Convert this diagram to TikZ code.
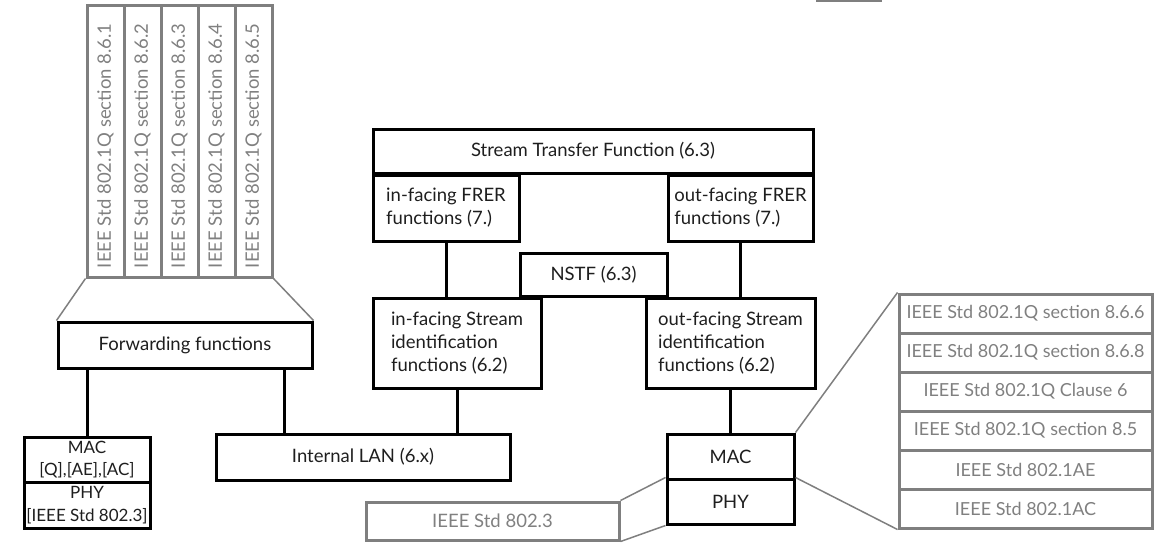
\documentclass[tikz,border=0pt]{standalone}
\usepackage{fontspec}
\setmainfont{Lato}
\definecolor{ink}{HTML}{1E1E1E}
\definecolor{gline}{HTML}{7F7F7F}
\definecolor{gtext}{HTML}{808080}
\begin{document}
\begin{tikzpicture}[x=1pt,y=-1pt,
  box/.style={draw=black,line width=3pt,inner sep=0pt,text=ink,font=\fontsize{18.5}{23}\selectfont},
  gbox/.style={draw=gline,line width=3pt,inner sep=0pt,text=gtext,font=\fontsize{18.5}{23}\selectfont},
  col/.style={gbox,minimum width=37pt,minimum height=272pt},
  rg/.style={gbox,minimum width=253pt,minimum height=39pt,font=\fontsize{18}{23}\selectfont},
  small/.style={font=\fontsize{17}{22.5}\selectfont},
  link/.style={line width=3pt,draw=black},
  glink/.style={line width=1.5pt,draw=gline}]
\useasboundingbox (0,0) rectangle (1166,542);
% vertical grey columns
\node[col] (c1) at (105.5,141) {\rotatebox{90}{\makebox[254pt][l]{IEEE Std 802.1Q section 8.6.1}}};
\node[col] (c2) at (142.5,141) {\rotatebox{90}{\makebox[254pt][l]{IEEE Std 802.1Q section 8.6.2}}};
\node[col] (c3) at (179.5,141) {\rotatebox{90}{\makebox[254pt][l]{IEEE Std 802.1Q section 8.6.3}}};
\node[col] (c4) at (216.5,141) {\rotatebox{90}{\makebox[254pt][l]{IEEE Std 802.1Q section 8.6.4}}};
\node[col] (c5) at (253.5,141) {\rotatebox{90}{\makebox[254pt][l]{IEEE Std 802.1Q section 8.6.5}}};
% left side
\node[box,minimum width=254pt,minimum height=46pt] (fw) at (185,345) {Forwarding functions};
\node[box,small,minimum width=126pt,minimum height=45pt,align=center] (lmac) at (87,459.5) {MAC\\{[Q],[AE],[AC]}};
\node[box,small,minimum width=126pt,minimum height=46pt,align=center] (lphy) at (87,505) {PHY\\{[IEEE Std 802.3]}};
\node[box,minimum width=294pt,minimum height=46pt] (lan) at (363,457) {Internal LAN (6.x)};
% centre
\node[box,minimum width=440pt,minimum height=44pt] (stf) at (593,151) {Stream Transfer Function (6.3)};
\node[box,minimum width=146pt,minimum height=66pt,align=left] (infrer) at (446,208) {in-facing FRER\\functions (7.)};
\node[box,minimum width=145pt,minimum height=66pt,align=left] (outfrer) at (740.5,208) {out-facing FRER\\functions (7.)};
\node[box,minimum width=147pt,minimum height=43pt] (nstf) at (593.5,274.5) {NSTF (6.3)};
\node[box,minimum width=168pt,minimum height=90pt,align=left] (insid) at (457,343) {in-facing Stream\\identification\\functions (6.2)};
\node[box,minimum width=169pt,minimum height=90pt,align=left] (outsid) at (730.5,343) {out-facing Stream\\identification\\functions (6.2)};
\node[box,minimum width=127pt,minimum height=45pt] (rmac) at (730.5,456.5) {MAC};
\node[box,minimum width=127pt,minimum height=45pt] (rphy) at (730.5,501.5) {PHY};
\node[gbox,minimum width=253pt,minimum height=38pt] (ieee3) at (492.5,521) {IEEE Std 802.3};
% right grey stack
\node[rg] (r1) at (1025.5,313.5) {IEEE Std 802.1Q section 8.6.6};
\node[rg] (r2) at (1025.5,352.5) {IEEE Std 802.1Q section 8.6.8};
\node[rg] (r3) at (1025.5,391.5) {IEEE Std 802.1Q Clause 6};
\node[rg] (r4) at (1025.5,430.5) {IEEE Std 802.1Q section 8.5};
\node[rg] (r5) at (1025.5,469.5) {IEEE Std 802.1AE};
\node[rg] (r6) at (1025.5,508.5) {IEEE Std 802.1AC};
% black connectors
\draw[link] (lmac.north) -- (lmac.north |- fw.south);
\coordinate (fwlan) at ([xshift=-29pt]fw.south east);
\draw[link] (fwlan) -- (fwlan |- lan.north);
\draw[link] (infrer.south) -- (infrer.south |- insid.north);
\draw[link] (outfrer.south) -- (outfrer.south |- outsid.north);
\coordinate (sidlan) at (insid.south);
\draw[link] (sidlan) -- (sidlan |- lan.north);
\draw[link] (outsid.south) -- (rmac.north);
% grey connectors
\draw[glink] (fw.north west) -- (c1.south west);
\draw[glink] (fw.north east) -- (c5.south east);
\draw[glink] (rmac.north east) -- (r1.north west);
\draw[glink] (rphy.north east) -- (r6.south west);
\draw[glink] (rphy.north west) -- (ieee3.north east);
\draw[glink] (rphy.south west) -- (ieee3.south east);
% fragment at top edge
\coordinate (fa) at (816,1);
\coordinate (fb) at (882,1);
\draw[gline,line width=2pt] (fa) -- (fb);
\end{tikzpicture}
\end{document}
